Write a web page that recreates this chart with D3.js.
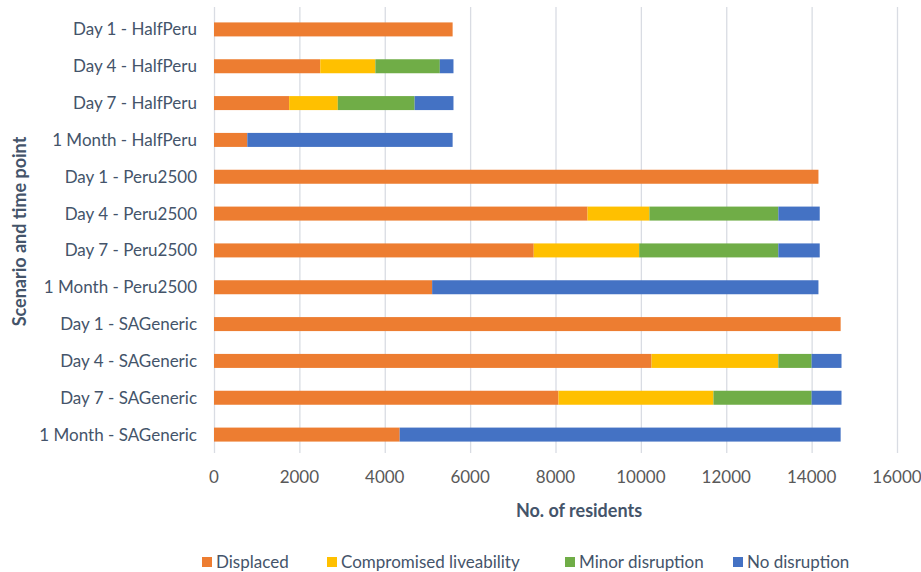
<!DOCTYPE html>
<html>
<head>
<meta charset="utf-8">
<script src="https://cdn.jsdelivr.net/npm/d3@7"></script>
<style>
  body { margin: 0; background: #fff; }
  svg { display: block; font-family: Lato, "Open Sans", sans-serif; }
</style>
</head>
<body>
<div id="chart"></div>
<script>
// Categories, top to bottom
const categories = [
  "Day 1 - HalfPeru", "Day 4 - HalfPeru", "Day 7 - HalfPeru", "1 Month - HalfPeru",
  "Day 1 - Peru2500", "Day 4 - Peru2500", "Day 7 - Peru2500", "1 Month - Peru2500",
  "Day 1 - SAGeneric", "Day 4 - SAGeneric", "Day 7 - SAGeneric", "1 Month - SAGeneric"
];

// Series values (no. of residents)
const displaced     = [5590, 2490, 1760, 780, 14160, 8750, 7490, 5110, 14680, 10250, 8070, 4350];
const compromised   = [0, 1290, 1140, 0, 0, 1450, 2470, 0, 0, 2970, 3630, 0];
const minor         = [0, 1510, 1800, 0, 0, 3020, 3260, 0, 0, 780, 2300, 0];
const noDisruption  = [0, 320, 910, 4810, 0, 970, 970, 9050, 0, 700, 700, 10330];

const seriesNames = ["Displaced", "Compromised liveability", "Minor disruption", "No disruption"];
const seriesColors = ["#ED7D31", "#FFC000", "#70AD47", "#4472C4"];
const xTicks = [0, 2000, 4000, 6000, 8000, 10000, 12000, 14000, 16000];

const width = 921, height = 572;
const margin = { top: 11, right: 24, bottom: 120, left: 214 };

const svg = d3.select("#chart").append("svg")
  .attr("width", width)
  .attr("height", height);

const x = d3.scaleLinear()
  .domain([0, 16000])
  .range([margin.left, width - margin.right]);

const y = d3.scaleBand()
  .domain(categories)
  .range([margin.top, height - margin.bottom + 1])
  .paddingInner(0.62)
  .paddingOuter(0.31);

// gridlines
svg.append("g")
  .selectAll("line")
  .data(xTicks)
  .join("line")
  .attr("x1", d => x(d) + 0.5)
  .attr("x2", d => x(d) + 0.5)
  .attr("y1", margin.top - 4)
  .attr("y2", 453)
  .attr("stroke", "#D9DCE3")
  .attr("stroke-width", 1.3);

// stack data
const rows = categories.map((c, i) => ({
  cat: c,
  s0: displaced[i], s1: compromised[i], s2: minor[i], s3: noDisruption[i]
}));
const stack = d3.stack().keys(["s0", "s1", "s2", "s3"])(rows);

svg.append("g")
  .selectAll("g")
  .data(stack)
  .join("g")
  .attr("fill", (d, i) => seriesColors[i])
  .selectAll("rect")
  .data(d => d)
  .join("rect")
  .attr("x", d => x(d[0]))
  .attr("y", d => y(d.data.cat))
  .attr("width", d => x(d[1]) - x(d[0]))
  .attr("height", y.bandwidth());

// y axis labels
svg.append("g")
  .selectAll("text")
  .data(categories)
  .join("text")
  .attr("x", 197)
  .attr("y", d => y(d) + y.bandwidth() / 2)
  .attr("dy", "0.35em")
  .attr("text-anchor", "end")
  .attr("font-size", 17)
  .attr("fill", "#44546A")
  .text(d => d);

// x tick labels
svg.append("g")
  .selectAll("text")
  .data(xTicks)
  .join("text")
  .attr("x", d => x(d))
  .attr("y", 477)
  .attr("dy", "0.35em")
  .attr("text-anchor", "middle")
  .attr("font-size", 17)
  .attr("fill", "#595959")
  .text(d => d);

// axis titles
svg.append("text")
  .attr("x", 579)
  .attr("y", 511)
  .attr("dy", "0.35em")
  .attr("text-anchor", "middle")
  .attr("font-size", 18)
  .attr("font-weight", "bold")
  .attr("fill", "#44546A")
  .text("No. of residents");

svg.append("text")
  .attr("transform", "translate(20," + ((margin.top + 452) / 2) + ") rotate(-90)")
  .attr("dy", "0.35em")
  .attr("text-anchor", "middle")
  .attr("font-size", 18)
  .attr("font-weight", "bold")
  .attr("fill", "#44546A")
  .text("Scenario and time point");

// legend
const legendX = [202, 327, 565, 733];
const legend = svg.append("g")
  .selectAll("g")
  .data(seriesNames)
  .join("g")
  .attr("transform", (d, i) => `translate(${legendX[i]},562)`);

legend.append("rect")
  .attr("x", 0)
  .attr("y", -5)
  .attr("width", 10)
  .attr("height", 10)
  .attr("fill", (d, i) => seriesColors[i]);

legend.append("text")
  .attr("x", 14)
  .attr("dy", "0.35em")
  .attr("font-size", 17)
  .attr("fill", "#44546A")
  .text(d => d);
</script>
</body>
</html>
